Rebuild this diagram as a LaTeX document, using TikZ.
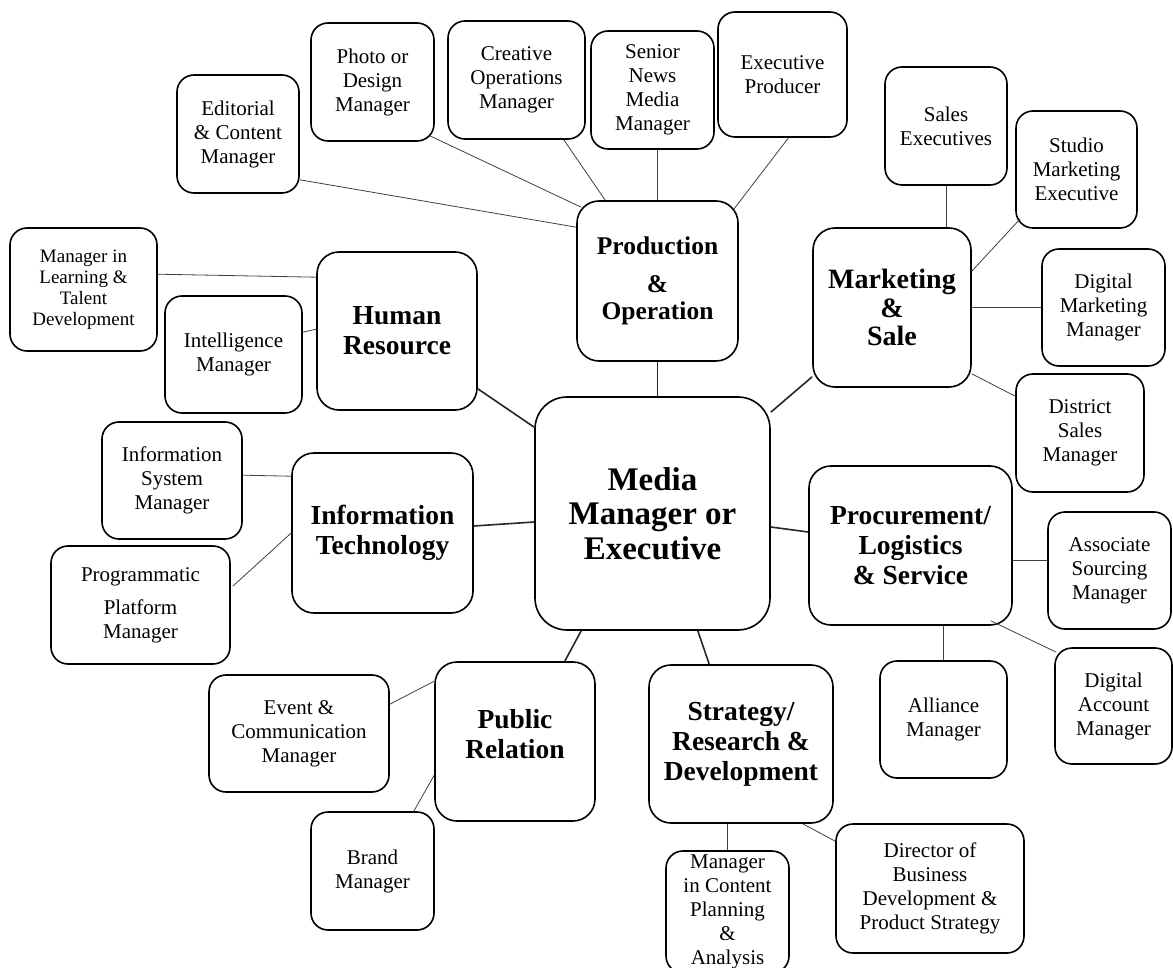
\documentclass[tikz,border=0pt]{standalone}
\usepackage{fontspec}
\setmainfont{Liberation Serif}
\usetikzlibrary{calc}
\tikzset{
  sz/.style 2 args={minimum width=#1pt, minimum height=#2pt},
  card/.style={draw, line width=1.6pt, rounded corners=17pt, align=center,
    inner sep=1pt, font=\fontsize{21}{24}\selectfont},
  dept/.style={draw, line width=1.6pt, rounded corners=22pt, align=center,
    inner sep=1pt, font=\fontsize{27.5}{30}\selectfont\bfseries},
  hub/.style={draw, line width=1.6pt, rounded corners=32pt, align=center,
    inner sep=1pt, font=\fontsize{33}{34.5}\selectfont\bfseries},
  twig/.style={line width=0.8pt, draw=black!75},
  limb/.style={line width=1.6pt, draw=black!85},
}
\begin{document}
\begin{tikzpicture}[x=1pt, y=-1pt]
\useasboundingbox (0,0) rectangle (1173,968);

% hub
\node[hub, sz={235}{233}] (center) at (652.5,513.5) {Media\\Manager or\\Executive};

% departments
\node[dept, sz={161}{160}, font=\fontsize{25.5}{27}\selectfont\bfseries] (prod) at (657.5,281) {Production\\[11pt]\&\\Operation};
\node[dept, sz={158}{159}, font=\fontsize{28}{28.5}\selectfont\bfseries] (mkt) at (892,307.5) {Marketing\\\&\\Sale};
\node[dept, sz={160}{158}] (hr) at (397,331) {Human\\Resource};
\node[dept, sz={181}{160}] (it) at (382.5,533) {Information\\Technology};
\node[dept, sz={160}{159}, text depth=16pt] (pr) at (515,741.5) {Public\\Relation};
\node[dept, sz={203}{159}] (proc) at (910.5,545.5) {Procurement/\\Logistics\\\& Service};
\node[dept, sz={184}{158}] (strat) at (741,744) {Strategy/\\Research \&\\Development};

% production & operation roles
\node[card, sz={122}{118}] (edit) at (238,134) {Editorial\\\& Content\\Manager};
\node[card, sz={123}{118}] (photo) at (372.5,82) {Photo or\\Design\\Manager};
\node[card, sz={137}{118}] (creat) at (516.5,80) {Creative\\Operations\\Manager};
\node[card, sz={123}{118}] (senior) at (652.5,90) {Senior\\News\\Media\\Manager};
\node[card, sz={129}{125}] (exprod) at (782.5,74.5) {Executive\\Producer};

% marketing & sale roles
\node[card, sz={122}{118}] (salesx) at (946,126) {Sales\\Executives};
\node[card, sz={121}{117}] (studio) at (1076.5,169.5) {Studio\\Marketing\\Executive};
\node[card, sz={123}{117}] (digmkt) at (1103.5,307.5) {Digital\\Marketing\\Manager};
\node[card, sz={128}{118}] (dist) at (1080,433) {District\\Sales\\Manager};

% human resource roles
\node[card, sz={147}{123}, font=\fontsize{19}{21}\selectfont] (learn) at (83.5,289.5) {Manager in\\Learning \&\\Talent\\Development};
\node[card, sz={137}{117}] (intel) at (233.5,354.5) {Intelligence\\Manager};

% information technology roles
\node[card, sz={140}{117}] (infosys) at (172,480.5) {Information\\System\\Manager};
\node[card, sz={179}{118}] (prog) at (140.5,605) {Programmatic\\[9pt]Platform\\Manager};

% public relation roles
\node[card, sz={180}{117}] (event) at (299,733.5) {Event \&\\Communication\\Manager};
\node[card, sz={123}{118}] (brand) at (372.5,871) {Brand\\Manager};

% procurement roles
\node[card, sz={123}{117}] (assoc) at (1109.5,570.5) {Associate\\Sourcing\\Manager};
\node[card, sz={117}{116}] (digacc) at (1113.5,706) {Digital\\Account\\Manager};
\node[card, sz={127}{117}] (alli) at (943.5,719.5) {Alliance\\Manager};

% strategy roles
\node[card, sz={123}{122}] (content) at (727.5,912) {Manager\\in Content\\Planning\\\&\\Analysis};
\node[card, sz={188}{129}] (director) at (930,888.5) {Director of\\Business\\Development \&\\Product Strategy};

% hub links
\draw[limb] (prod.south) -- (prod.south |- center.north);
\draw[limb] ($(center.north east)+(0,16)$) -- ($(mkt.south west)+(0,-11)$);
\draw[limb] ($(hr.south east)+(0,-22)$) -- ($(center.north west)+(0,31)$);
\draw[limb] ($(it.east)+(0,-7)$) -- ($(center.west)+(0,8.5)$);
\draw[limb] ($(center.south west)+(47,0)$) -- ($(pr.north east)+(-31,0)$);
\draw[limb] ($(center.east)+(0,13.5)$) -- ($(proc.west)+(0,-13.5)$);
\draw[limb] ($(center.south east)+(-73,0)$) -- ($(strat.north west)+(61,0)$);

% production & operation links
\draw[twig] ($(edit.south east)+(0,-14)$) -- ($(prod.north west)+(0,27)$);
\draw[twig] ($(photo.south east)+(-5,-6)$) -- ($(prod.north west)+(5,7)$);
\draw[twig] ($(creat.south east)+(-22,0)$) -- ($(prod.north west)+(29,0)$);
\draw[twig] (prod.north |- senior.south) -- (prod.north);
\draw[twig] ($(exprod.south)+(6,0)$) -- ($(prod.north east)+(-5,9)$);

% marketing & sale links
\draw[twig] (salesx.south) -- (salesx.south |- mkt.north);
\draw[twig] ($(studio.south west)+(5,-10)$) -- ($(mkt.north east)+(0,44)$);
\draw[twig] (digmkt.west) -- (digmkt.west -| mkt.east);
\draw[twig] ($(mkt.south east)+(0,-14)$) -- ($(dist.north west)+(0,23)$);

% human resource links
\draw[twig] ($(learn.north east)+(0,47)$) -- ($(hr.north west)+(0,26)$);
\draw[twig] ($(intel.north east)+(0,37)$) -- ($(hr.north west)+(0,78)$);

% information technology links
\draw[twig] ($(infosys.north east)+(0,54)$) -- ($(it.north west)+(0,24)$);
\draw[twig] ($(prog.north east)+(2,41)$) -- (it.west);

% public relation links
\draw[twig] ($(event.north east)+(0,30)$) -- ($(pr.north west)+(0,20)$);
\draw[twig] ($(brand.north east)+(-21,0)$) -- ($(pr.north west)+(0,114)$);

% procurement links
\draw[twig] ($(proc.east)+(0,14.5)$) -- ($(assoc.west)+(0,-10.5)$);
\draw[twig] (alli.north |- proc.south) -- (alli.north);
\draw[twig] ($(proc.south east)+(-22,-5)$) -- ($(digacc.north west)+(2,5)$);

% strategy links
\draw[twig] (content.north |- strat.south) -- (content.north);
\draw[twig] ($(strat.south east)+(-31,0)$) -- ($(director.north west)+(0,18)$);
\end{tikzpicture}
\end{document}
